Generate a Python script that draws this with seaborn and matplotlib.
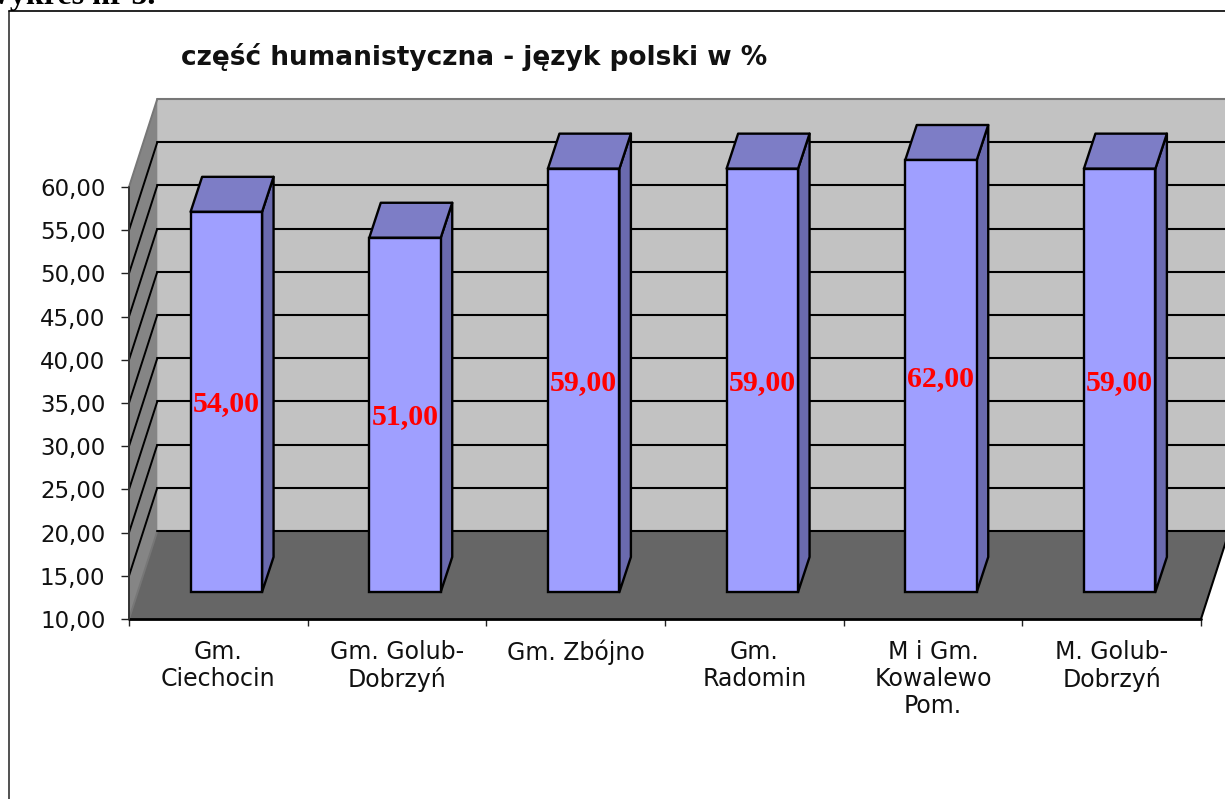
import matplotlib
matplotlib.use("Agg")
import matplotlib.pyplot as plt
from matplotlib.patches import Polygon
import pandas as pd
import seaborn as sns

gminy = ["Gm.\nCiechocin", "Gm. Golub-\nDobrzyń", "Gm. Zbójno", "Gm.\nRadomin",
         "M i Gm.\nKowalewo\nPom.", "M. Golub-\nDobrzyń"]
wyniki = [54, 51, 59, 59, 62, 59]
podzialka = [10, 15, 20, 25, 30, 35, 40, 45, 50, 55, 60]
tytul = "część humanistyczna - język polski w %"
naglowek = "Wykres nr 5."

W, H = 1225, 799
sns.set_theme(style="white")
plt.rcParams["font.family"] = ["Liberation Sans", "DejaVu Sans"]

df = pd.DataFrame({"gmina": gminy, "wynik": wyniki})

fig = plt.figure(figsize=(W / 100, H / 100), dpi=100, facecolor="white")


def pozycja(lewo, dol_y, prawo, gora_y):
    # piksele obrazka -> wspolrzedne figury
    return [lewo / W, 1 - dol_y / H, (prawo - lewo) / W, (dol_y - gora_y) / H]


# ramka strony i naglowek
tlo = fig.add_axes([0, 0, 1, 1])
tlo.set_xlim(0, W)
tlo.set_ylim(H, 0)
tlo.axis("off")
tlo.plot([8.5, 8.5], [11, H], color="#333333", lw=1.2)
tlo.plot([8.5, W], [11, 11], color="black", lw=1.2)
tlo.text(155, 4, naglowek, ha="right", va="baseline", fontsize=23, fontweight="bold",
         family="Liberation Serif", color="black")
tlo.text(181, 57, tytul, ha="left", va="center", fontsize=19, fontweight="bold",
         family="DejaVu Sans", color="#111111")

# osie wykresu - sciana, podloga
ax = fig.add_axes(pozycja(129, 619, 1201, 187))
ax.set_xlim(-0.5, 5.5)
ax.set_ylim(10, 60)
ax.patch.set_alpha(0)
for s in ax.spines.values():
    s.set_visible(False)

kat_px = (1201 - 129) / 6
wart_px = (619 - 187) / 50
dx = 28.3 / kat_px
dy = 88 / wart_px

ax.add_patch(Polygon([(-0.5 + dx, 10 + dy), (5.5 + dx, 10 + dy), (5.5 + dx, 60 + dy), (-0.5 + dx, 60 + dy)],
                     fc="#C2C2C2", ec="none", clip_on=False, zorder=1))
ax.add_patch(Polygon([(-0.5, 10), (-0.5 + dx, 10 + dy), (-0.5 + dx, 60 + dy), (-0.5, 60)],
                     fc="#858585", ec="none", clip_on=False, zorder=1))
ax.add_patch(Polygon([(-0.5, 10), (5.5, 10), (5.5 + dx, 10 + dy), (-0.5 + dx, 10 + dy)],
                     fc="#666666", ec="none", clip_on=False, zorder=2))

for v in podzialka:
    if v in (10, 60):
        kolor = "#777777"
    else:
        kolor = "black"
    ax.plot([-0.5, -0.5 + dx], [v, v + dy], color=kolor, lw=1.4, clip_on=False, zorder=3, solid_capstyle="butt")
    ax.plot([-0.5 + dx, 5.5 + dx], [v + dy, v + dy], color="black" if v != 60 else "#777777", lw=1.5,
            clip_on=False, zorder=3)
ax.plot([5.5, 5.5 + dx], [10, 10 + dy], color="black", lw=1.5, clip_on=False, zorder=3)
ax.plot([-0.5, 5.5], [10, 10], color="black", lw=2, clip_on=False, zorder=4)
ax.plot([-0.5, -0.5], [10, 60], color="#333333", lw=1.4, clip_on=False, zorder=4)

ax.set_yticks(podzialka)
ax.set_yticklabels([f"{v:.2f}".replace(".", ",") for v in podzialka], family="DejaVu Sans", fontsize=16.5,
                   color="#111111")
ax.set_xticks([i - 0.5 for i in range(len(gminy) + 1)])
ax.set_xticklabels([])
ax.set_xticks(range(len(gminy)), gminy, minor=True, fontsize=17, family="DejaVu Sans", color="#111111",
              linespacing=1.17, va="top")
ax.tick_params(axis="y", left=True, length=6, width=1, color="#222222", pad=11)
ax.tick_params(axis="x", which="major", bottom=True, length=5, width=1, color="#222222")
ax.tick_params(axis="x", which="minor", bottom=False, length=0, pad=15)

# slupki przesuniete w glab podlogi
sx, sy = 8.0, 27.0
bar_ax = fig.add_axes(pozycja(129 + sx, 619 - sy, 1201 + sx, 187 - sy))
bar_ax.patch.set_alpha(0)
sns.barplot(data=df, x="gmina", y="wynik", color="#9F9FFF", saturation=1, width=0.4,
            edgecolor="black", linewidth=1.7, ax=bar_ax)
bar_ax.set_xlim(-0.5, 5.5)
bar_ax.set_ylim(10, 60)
bar_ax.axis("off")

gx = 11.5 / kat_px
gy = 35 / wart_px
for p, w in zip(bar_ax.patches, wyniki):
    # os konczy sie na 60, wyzsze slupki sa uciete
    gora = min(w, 60)
    x0 = p.get_x()
    x1 = x0 + p.get_width()
    p.set_y(10)
    p.set_height(gora - 10)
    p.set_clip_on(False)
    p.set_zorder(3)
    bar_ax.add_patch(Polygon([(x1, 10), (x1 + gx, 10 + gy), (x1 + gx, gora + gy), (x1, gora)],
                             fc="#6A6AAE", ec="black", lw=1.7, clip_on=False, zorder=2, joinstyle="round"))
    bar_ax.add_patch(Polygon([(x0, gora), (x1, gora), (x1 + gx, gora + gy), (x0 + gx, gora + gy)],
                             fc="#7D7DC6", ec="black", lw=1.7, clip_on=False, zorder=2, joinstyle="round"))
    bar_ax.annotate(f"{w:.2f}".replace(".", ","), ((x0 + x1) / 2, (10 + gora) / 2), xytext=(0, -1.5),
                    textcoords="offset points", ha="center", va="center", color="#FF0000", fontsize=21.5,
                    fontweight="bold", family="Liberation Serif", zorder=5)

fig.savefig("out.png", dpi=100)
